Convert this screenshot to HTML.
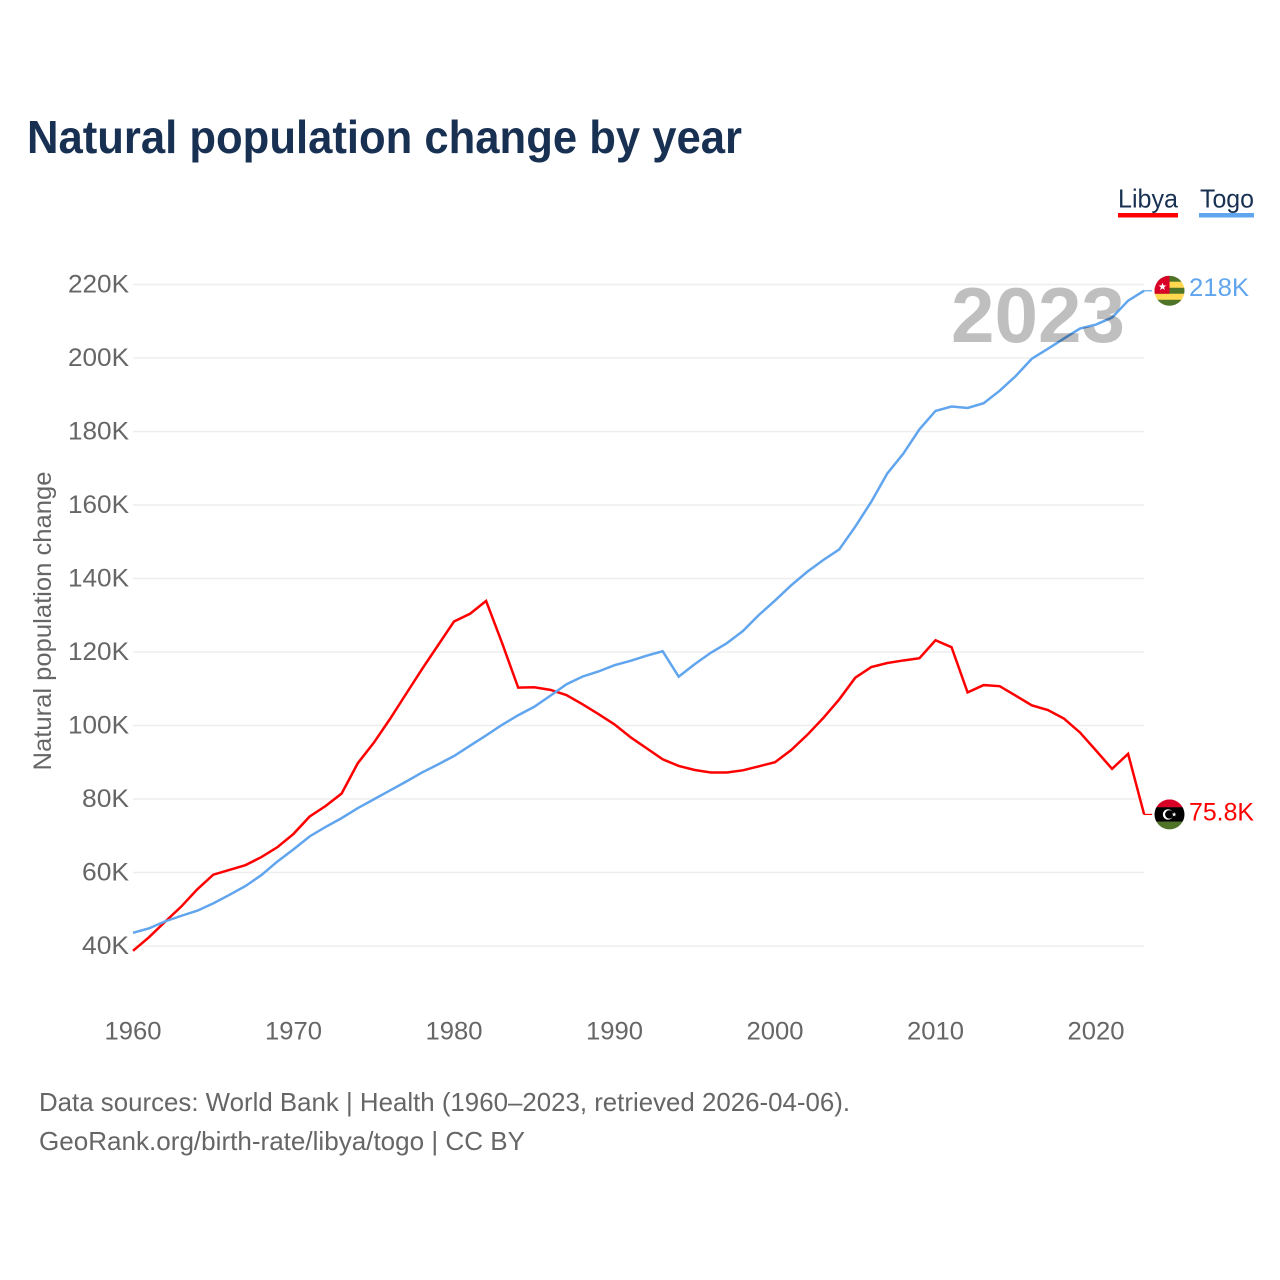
<!DOCTYPE html>
<html lang="en">
<head>
<meta charset="utf-8">
<title>Natural population change by year</title>
<style>
html,body{margin:0;padding:0;background:#fff;}
svg{display:block;}
text{font-family:"Liberation Sans",sans-serif;}
</style>
</head>
<body>
<svg id="chart" xmlns="http://www.w3.org/2000/svg" width="1280" height="1280" viewBox="0 0 1280 1280">
  <rect x="0" y="0" width="1280" height="1280" fill="#ffffff"/>
  <text x="27" y="153" font-size="46" font-weight="700" fill="#183153" textLength="715" lengthAdjust="spacingAndGlyphs">Natural population change by year</text>

  <g>
    <g>
      <text x="1118" y="207.5" font-size="26" fill="#183153" textLength="60" lengthAdjust="spacingAndGlyphs">Libya</text>
      <rect x="1118" y="213" width="60" height="4.5" fill="#ff0000"/>
    </g>
    <g>
      <text x="1200" y="207.5" font-size="26" fill="#183153" textLength="54" lengthAdjust="spacingAndGlyphs">Togo</text>
      <rect x="1199" y="213" width="55" height="4.5" fill="#60a5ee"/>
    </g>
  </g>

  <g id="grid"></g>
  <g id="yticks"></g>
  <g id="xticks"></g>
  <text transform="translate(51 621) rotate(-90)" text-anchor="middle" font-size="25" fill="#666666" textLength="299" lengthAdjust="spacingAndGlyphs">Natural population change</text>
  <g id="series"></g>
  <text x="951" y="342" font-size="78" font-weight="700" fill="#000000" fill-opacity="0.25" textLength="174" lengthAdjust="spacingAndGlyphs">2023</text>

  <defs>
    <clipPath id="clip-togo"><circle id="clip-togo-c" cx="1169.5" cy="290.5" r="15"/></clipPath>
    <clipPath id="clip-libya"><circle id="clip-libya-c" cx="1169.5" cy="814" r="15"/></clipPath>
  </defs>
  <g id="flag-togo"></g>
  <g id="flag-libya"></g>
  <g id="end-labels"></g>

  <text x="39" y="1111" font-size="26" fill="#666666" textLength="811" lengthAdjust="spacingAndGlyphs">Data sources: World Bank | Health (1960–2023, retrieved 2026-04-06).</text>
  <text x="39" y="1150" font-size="26" fill="#666666" textLength="486" lengthAdjust="spacingAndGlyphs">GeoRank.org/birth-rate/libya/togo | CC BY</text>
</svg>
<script>
const years = [1960,1961,1962,1963,1964,1965,1966,1967,1968,1969,1970,1971,1972,1973,1974,1975,1976,1977,1978,1979,1980,1981,1982,1983,1984,1985,1986,1987,1988,1989,1990,1991,1992,1993,1994,1995,1996,1997,1998,1999,2000,2001,2002,2003,2004,2005,2006,2007,2008,2009,2010,2011,2012,2013,2014,2015,2016,2017,2018,2019,2020,2021,2022,2023];
const libyaValues = [38.7,42.4,46.6,50.7,55.4,59.4,60.7,62,64.2,66.9,70.5,75.2,78.1,81.5,89.7,95.3,101.7,108.5,115.3,121.8,128.3,130.4,133.9,122.4,110.3,110.4,109.7,108.3,105.8,103.1,100.3,96.8,93.8,90.8,89,87.9,87.2,87.2,87.8,88.9,90,93.3,97.4,102,107.1,113,115.9,117,117.7,118.3,123.2,121.3,109,111,110.7,108.1,105.5,104.2,101.9,98.1,93.2,88.2,92.3,75.8];
const togoValues = [43.6,44.8,46.7,48.2,49.6,51.6,53.9,56.3,59.3,63,66.3,69.8,72.4,74.8,77.5,79.9,82.3,84.7,87.2,89.4,91.7,94.5,97.3,100.2,102.8,105.1,108.1,111.2,113.3,114.7,116.4,117.6,119,120.2,113.3,116.7,119.8,122.4,125.7,130.1,134,138.1,141.8,145,147.9,154.1,160.9,168.6,174,180.6,185.6,186.8,186.4,187.7,191.1,195.1,199.8,202.5,205.3,208,209.1,211,215.6,218.3];
const yTickValues = [40,60,80,100,120,140,160,180,200,220];
const yTickLabels = ["40K","60K","80K","100K","120K","140K","160K","180K","200K","220K"];
const xTickYears = [1960,1970,1980,1990,2000,2010,2020];
const endLabels = ["75.8K","218K"];

const NS = "http://www.w3.org/2000/svg";
function xScale(year){ return 133 + (year - 1960) * 16.05; }
function yScale(v){ return 284.5 + (220 - v) * 3.675; }
function make(tag, attrs){
  const el = document.createElementNS(NS, tag);
  for (const k in attrs) el.setAttribute(k, attrs[k]);
  return el;
}

const gridG = document.getElementById("grid");
const yG = document.getElementById("yticks");
yTickValues.forEach(function(v, i){
  const line = make("line", {x1:133, x2:1144, y1:yScale(v), y2:yScale(v), stroke:"#eeeeee", "stroke-width":1.5});
  
  
  gridG.appendChild(line);
  const t = make("text", {x:129, y:yScale(v)+8, "text-anchor":"end", "font-size":25, fill:"#666666", textLength:yTickLabels[i].length === 4 ? 61 : 47, lengthAdjust:"spacingAndGlyphs"});
  
  
  t.textContent = yTickLabels[i];
  yG.appendChild(t);
});

const xG = document.getElementById("xticks");
xTickYears.forEach(function(yr){
  const t = make("text", {x:xScale(yr), y:1039.5, "text-anchor":"middle", "font-size":25, fill:"#666666", textLength:57, lengthAdjust:"spacingAndGlyphs"});
  
  
  t.textContent = String(yr);
  xG.appendChild(t);
});

function linePoints(values){
  return values.map(function(v, i){ return xScale(years[i]).toFixed(2) + "," + yScale(v).toFixed(2); }).join(" ");
}
const seriesG = document.getElementById("series");
const lastYear = years[years.length - 1];

const libyaLine = make("polyline", {points:linePoints(libyaValues), fill:"none", stroke:"#ff0000", "stroke-width":2.5, "stroke-linejoin":"miter"});


const togoLine = make("polyline", {points:linePoints(togoValues), fill:"none", stroke:"#60a5ee", "stroke-width":2.5, "stroke-linejoin":"miter"});


seriesG.appendChild(libyaLine);
seriesG.appendChild(togoLine);

const libyaLastY = yScale(libyaValues[libyaValues.length - 1]);
const togoLastY = yScale(togoValues[togoValues.length - 1]);

const libyaConn = make("line", {x1:xScale(lastYear), x2:xScale(lastYear)+8, y1:libyaLastY, y2:libyaLastY, stroke:"#ff0000", "stroke-width":1.2});


seriesG.appendChild(libyaConn);
const togoConn = make("line", {x1:xScale(lastYear), x2:xScale(lastYear)+8, y1:togoLastY, y2:togoLastY, stroke:"#60a5ee", "stroke-width":1.2});


seriesG.appendChild(togoConn);

/* flags follow the last data point */
const cx = 1169.5;
const tc = togoLastY, lc = libyaLastY;
document.getElementById("clip-togo-c").setAttribute("cy", tc);
document.getElementById("clip-libya-c").setAttribute("cy", lc);

const tf = document.getElementById("flag-togo");
tf.setAttribute("clip-path", "url(#clip-togo)");
const togoBands = ["#4f7327","#ffd84f","#4f7327","#ffd84f","#4f7327"];
togoBands.forEach(function(col, i){
  const r = make("rect", {x:cx-15, y:tc-15+i*6, width:30, height:6.2, fill:col});
  
  
  tf.appendChild(r);
});
const canton = make("rect", {x:cx-15, y:tc-15, width:15, height:18, fill:"#d80027"});


tf.appendChild(canton);
function starPts(x, y, R){
  const p = [];
  for (let i = 0; i < 10; i++){
    const a = -Math.PI/2 + i*Math.PI/5, r = i % 2 ? R*0.42 : R;
    p.push((x + r*Math.cos(a)).toFixed(2) + "," + (y + r*Math.sin(a)).toFixed(2));
  }
  return p.join(" ");
}
const tStar = make("polygon", {points:starPts(cx-7, tc-4, 4), fill:"#ffffff"});


tf.appendChild(tStar);

const lf = document.getElementById("flag-libya");
lf.setAttribute("clip-path", "url(#clip-libya)");
const lRed = make("rect", {x:cx-15, y:lc-15, width:30, height:8, fill:"#d80027"});


lf.appendChild(lRed);
const lBlack = make("rect", {x:cx-15, y:lc-7.2, width:30, height:14.6, fill:"#000000"});


lf.appendChild(lBlack);
const lGreen = make("rect", {x:cx-15, y:lc+7.2, width:30, height:8, fill:"#4f7327"});


lf.appendChild(lGreen);
const cres1 = make("circle", {cx:cx-1.5, cy:lc, r:5.2, fill:"#ffffff"});


lf.appendChild(cres1);
const cres2 = make("circle", {cx:cx-0.2, cy:lc, r:4.2, fill:"#000000"});


lf.appendChild(cres2);
const lStar = make("polygon", {points:starPts(cx+4.6, lc, 2.4), fill:"#ffffff"});


lf.appendChild(lStar);

const lblG = document.getElementById("end-labels");
const libyaLbl = make("text", {x:1189, y:libyaLastY+6, "font-size":25, fill:"#ff0000", textLength:65, lengthAdjust:"spacingAndGlyphs"});


libyaLbl.textContent = endLabels[0];
lblG.appendChild(libyaLbl);
const togoLbl = make("text", {x:1189, y:togoLastY+5.5, "font-size":25, fill:"#60a5ee", textLength:60, lengthAdjust:"spacingAndGlyphs"});


togoLbl.textContent = endLabels[1];
lblG.appendChild(togoLbl);
</script>
</body>
</html>
